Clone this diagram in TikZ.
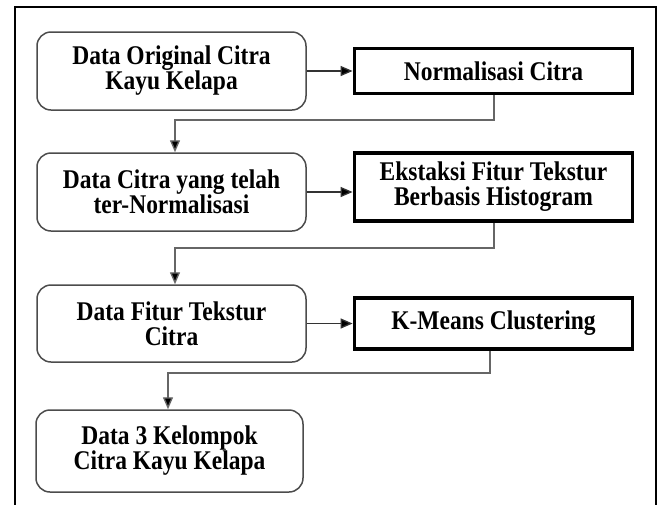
\documentclass[tikz,border=0pt]{standalone}
\usepackage{fontspec}
\setmainfont{Liberation Serif}[FakeStretch=0.87]
\usetikzlibrary{arrows.meta,calc}
\begin{document}
\begin{tikzpicture}[x=1pt,y=-1pt,
  txt/.style={font=\fontsize{27}{25}\selectfont\bfseries, align=center, inner sep=0pt},
  rbox/.style={txt, draw=black!70, line width=1.5pt, rounded corners=14pt},
  tbox/.style={txt, draw=black, line width=3.8pt},
  arr/.style={draw=black!80, line width=1.3pt, -{Triangle[length=12pt,width=10pt,fill=black]}},
  conn/.style={draw=black!60, line width=1.4pt, -{Triangle[length=12pt,width=10pt,fill=black]}}
]
\useasboundingbox (0,0) rectangle (662,504);
\draw[line width=1.5pt] (15,510) -- (15,7) -- (656,7) -- (656,510);

\node[rbox, minimum width=269pt, minimum height=78pt] (b1) at (171.5,71) {Data Original Citra\\Kayu Kelapa};
\node[tbox, minimum width=278pt, minimum height=45pt] (b2) at (493.5,71) {Normalisasi Citra};
\node[rbox, minimum width=269pt, minimum height=78pt] (b3) at (171.5,192) {Data Citra yang telah\\ter-Normalisasi};
\node[tbox, minimum width=278pt, minimum height=68pt] (b4) at (493.5,187) {Ekstaksi Fitur Tekstur\\Berbasis Histogram};
\node[rbox, minimum width=269pt, minimum height=77pt] (b5) at (171.5,323.5) {Data Fitur Tekstur\\Citra};
\node[tbox, minimum width=278pt, minimum height=51pt] (b6) at (493.5,323.5) {K-Means Clustering};
\node[rbox, minimum width=267pt, minimum height=82pt] (b7) at (169.5,451) {Data 3 Kelompok\\Citra Kayu Kelapa};

\coordinate (k1) at (494,120);
\coordinate (k2) at (494,248);
\coordinate (k3) at (490,373);

\draw[arr] (b1.east) -- (b2.west);
\draw[arr] (b3.east |- 0,192) -- (b4.west |- 0,192);
\draw[arr] (b5.east) -- (b6.west);

\draw[conn] (b2.south -| k1) -- (k1) -| ([xshift=3.5pt]b3.north);
\draw[conn] (b4.south -| k2) -- (k2) -| ([xshift=3.5pt]b5.north);
\draw[conn] (b6.south -| k3) -- (k3) -| ([xshift=-1.5pt]b7.north);
\end{tikzpicture}
\end{document}
